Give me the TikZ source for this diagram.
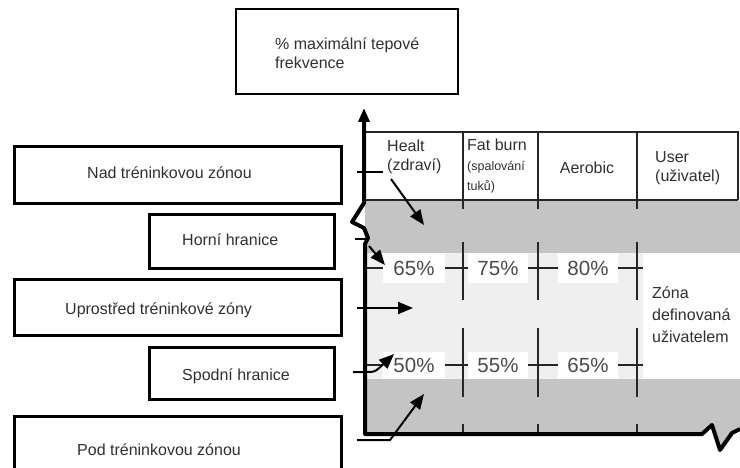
\documentclass[tikz,border=0pt]{standalone}
\usepackage{fontspec}
\setmainfont{Liberation Sans}
\usetikzlibrary{arrows.meta}
\definecolor{zonegray}{HTML}{C4C4C4}
\definecolor{zonelight}{HTML}{EFEFEF}
\definecolor{txt}{HTML}{303030}
\definecolor{pcttxt}{HTML}{4A4A4A}
\begin{document}
\begin{tikzpicture}[x=1pt,y=-1pt,
  lbox/.style={draw, line width=3pt, inner sep=0pt},
  tbox/.style={draw, line width=2pt, inner sep=0pt},
  lbl/.style={inner sep=0pt, text=txt, font=\fontsize{16}{19.5}\selectfont, align=left},
  small/.style={inner sep=0pt, text=txt, font=\fontsize{12.5}{20}\selectfont, align=left},
  pct/.style={fill=white, inner sep=0pt, text=pcttxt, font=\fontsize{20.5}{24}\selectfont},
  tline/.style={line width=1.6pt, draw=black!85},
  leader/.style={line width=2pt},
  ptr/.style={line width=2pt, -{Triangle[length=15pt,width=12pt]}},
]
\useasboundingbox (0,0) rectangle (740,468);
\begin{scope}
\clip (0,0) rectangle (740,468);

% zones
\fill[zonegray] (365,201) -- (740,201) -- (740,430) -- (732,433) -- (720,450) -- (712,425) -- (702,434) -- (365,434) -- cycle;
\fill[zonelight] (365,253) rectangle (643,379);
\fill[white] (643,253) rectangle (740,379);

% header table
\draw[tline] (363,132) -- (738,132) -- (738,200);
\draw[tline] (365,200) -- (738,200);
\foreach \x in {463,538,637} {
  \draw[tline] (\x,132) -- (\x,209);
  \draw[tline] (\x,242) -- (\x,300);
  \draw[tline] (\x,328) -- (\x,397);
  \draw[tline] (\x,424) -- (\x,434);
}
\draw[tline] (365,268) -- (643,268);
\draw[tline] (365,365) -- (643,365);

\node[lbl, anchor=west] (healt) at (387,157) {Healt\\(zdraví)};
\node[lbl, anchor=west] (fat) at (467,145) {Fat burn};
\node[small, anchor=west] (fatsub) at (467,177) {(spalování\\tuků)};
\node[lbl] (aero) at (587,168) {Aerobic};
\node[lbl, anchor=west] (user) at (655,168) {User\\(uživatel)};
\node[lbl, anchor=west, font=\fontsize{16}{22}\selectfont] (zona) at (652,315) {Zóna\\definovaná\\uživatelem};

% percent labels
\node[pct, minimum width=62pt, minimum height=30pt] (u1) at (414,268) {65\%};
\node[pct, minimum width=60pt, minimum height=30pt] (u2) at (498,268) {75\%};
\node[pct, minimum width=60pt, minimum height=30pt] (u3) at (588,268) {80\%};
\node[pct, minimum width=62pt, minimum height=27pt] (l1) at (414,365.5) {50\%};
\node[pct, minimum width=60pt, minimum height=27pt] (l2) at (498,365.5) {55\%};
\node[pct, minimum width=60pt, minimum height=27pt] (l3) at (588,365.5) {65\%};

% axes
\draw[line width=4pt, line join=round, -{Triangle[length=14pt,width=11pt]}]
  (740,429) -- (732,433) -- (720,450) -- (712,425) -- (702,434) -- (365,434)
  -- (365,244) -- (368,238) -- (364,228) -- (352,222) -- (364,203) -- (364,108);

% boxes
\node[tbox, anchor=north west, minimum width=222pt, minimum height=85pt] (top) at (235,8) {};
\node[lbl, anchor=west] (toptxt) at (275,53) {\% maximální tepové\\frekvence};

\node[lbox, anchor=north west, minimum width=327pt, minimum height=57pt] (nad) at (13,145) {};
\node[lbl, anchor=west] (nadtxt) at (87,173) {Nad tréninkovou zónou};
\node[lbox, anchor=north west, minimum width=185pt, minimum height=54pt] (horni) at (148,213) {};
\node[lbl, anchor=west] (hornitxt) at (182,240) {Horní hranice};
\node[lbox, anchor=north west, minimum width=327pt, minimum height=56pt] (stred) at (13,278) {};
\node[lbl, anchor=west] (stredtxt) at (65,310) {Uprostřed tréninkové zóny};
\node[lbox, anchor=north west, minimum width=185pt, minimum height=52pt] (spodni) at (148,346) {};
\node[lbl, anchor=west] (spodnitxt) at (182,376) {Spodní hranice};
\node[lbox, anchor=north west, minimum width=327pt, minimum height=72pt] (pod) at (13,415) {};
\node[lbl, anchor=west] (podtxt) at (77,450) {Pod tréninkovou zónou};

% leaders and pointers
\coordinate (nadA) at (357,172); \coordinate (nadB) at (383,172);
\coordinate (nadC) at (391,179); \coordinate (nadT) at (424,225);
\draw[leader] (nadA) -- (nadB);
\draw[ptr] (nadC) -- (nadT);

\coordinate (horA) at (355,239); \coordinate (horB) at (367,239);
\coordinate (horC) at (369,246); \coordinate (horT) at (385,265);
\draw[leader] (horA) -- (horB);
\draw[ptr] (horC) -- (horT);

\coordinate (strA) at (357,308); \coordinate (strT) at (413,308);
\draw[ptr] (strA) -- (strT);

\coordinate (spoA) at (353,372); \coordinate (spoB) at (367,372);
\coordinate (spoK) at (375,372); \coordinate (spoT) at (394,354);
\draw[ptr] (spoA) -- (spoB) .. controls (spoK) .. (spoT);

\coordinate (podA) at (357,440); \coordinate (podB) at (390,440);
\coordinate (podT) at (424,394);
\draw[ptr] (podA) -- (podB) -- (podT);
\end{scope}
\end{tikzpicture}
\end{document}
